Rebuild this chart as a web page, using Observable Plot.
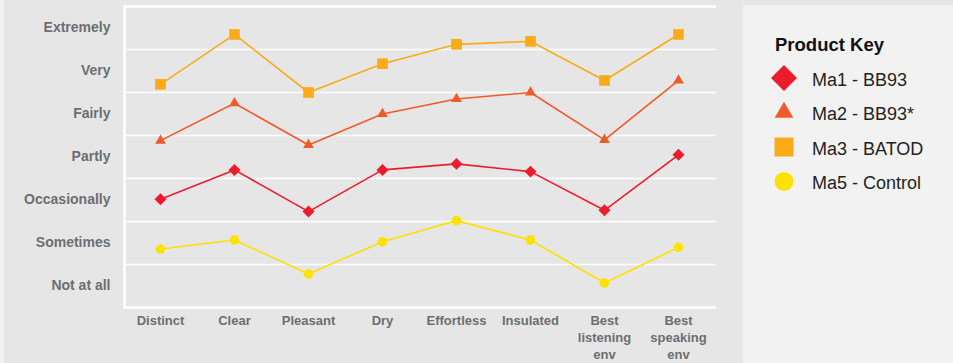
<!DOCTYPE html>
<html>
<head>
<meta charset="utf-8">
<script src="https://cdn.jsdelivr.net/npm/d3@7"></script>
<script src="https://cdn.jsdelivr.net/npm/@observablehq/plot@0.6"></script>
<style>
  html, body { margin: 0; padding: 0; }
  body { width: 953px; height: 363px; background: #f2f2f2; position: relative; overflow: hidden; font-family: "Liberation Sans", Arial, sans-serif; }
  #bg { position: absolute; left: 4px; top: 0; width: 949px; height: 363px; background: #e6e6e6; }
  #chart { position: absolute; left: 4px; top: 0; width: 739px; height: 363px; }
  #legend { position: absolute; left: 743px; top: 5px; width: 210px; height: 358px; background: #f2f2f2; }
</style>
</head>
<body>
<div id="bg"></div>
<div id="chart"></div>
<div id="legend"></div>
<script>
// ---- data ----
const categories = ["Distinct", "Clear", "Pleasant", "Dry", "Effortless", "Insulated", "Best\nlistening\nenv", "Best\nspeaking\nenv"];
const levels = ["Not at all", "Sometimes", "Occasionally", "Partly", "Fairly", "Very", "Extremely"];
const seriesNames = ["Ma1 - BB93", "Ma2 - BB93*", "Ma3 - BATOD", "Ma5 - Control"];
const ma1 = [2.52, 3.20, 2.23, 3.20, 3.34, 3.16, 2.26, 3.55];
const ma2 = [3.88, 4.75, 3.78, 4.50, 4.85, 5.00, 3.90, 5.28];
const ma3 = [5.19, 6.35, 5.00, 5.67, 6.12, 6.19, 5.28, 6.35];
const ma5 = [1.36, 1.57, 0.78, 1.53, 2.02, 1.57, 0.57, 1.40];
const seriesValues = [ma1, ma2, ma3, ma5];
const seriesColors = ["#ec1c2e", "#f15a29", "#fbab18", "#ffe100"];
const seriesSymbols = ["diamond2", "triangle", "square", "circle"];
const seriesR = [5.4, 4.0, 6.0, 4.8];

const rows = [];
seriesNames.forEach((s, i) => {
  categories.forEach((c, j) => rows.push({series: s, cat: c, value: seriesValues[i][j]}));
});

const marks = [
  Plot.ruleY(d3.range(1, 7), {stroke: "white", strokeWidth: 1.5}),
  Plot.ruleY([0, 7], {stroke: "white", strokeWidth: 2.5}),
  Plot.frame({anchor: "left", stroke: "white", strokeWidth: 2.5}),
  Plot.axisY({
    ticks: d3.range(0.5, 7, 1),
    tickFormat: d => levels[Math.floor(d)],
    tickSize: 0, tickPadding: 14, label: null,
    fontSize: 14, fontWeight: "bold", fill: "#6d6e71"
  }),
  Plot.axisX({
    tickSize: 0, tickPadding: 6, lineAnchor: "top", lineHeight: 1.28, label: null,
    fontSize: 13, fontWeight: "bold", fill: "#6d6e71"
  })
];
seriesNames.forEach((s, i) => {
  const data = rows.filter(d => d.series === s);
  marks.push(Plot.line(data, {x: "cat", y: "value", stroke: seriesColors[i], strokeWidth: 1.6}));
  marks.push(Plot.dot(data, {x: "cat", y: "value", fill: seriesColors[i], symbol: () => seriesSymbols[i], r: seriesR[i]}));
});

const chart = Plot.plot({
  width: 739,
  height: 363,
  marginLeft: 120,
  marginRight: 27,
  marginTop: 6,
  marginBottom: 56,
  style: {background: "transparent", fontFamily: "Liberation Sans, Arial, sans-serif", overflow: "visible"},
  x: {type: "point", domain: categories, range: [155, 674], padding: 0, label: null},
  y: {domain: [0, 7], label: null},
  symbol: {type: "identity"},
  marks
});
document.getElementById("chart").appendChild(chart);

// ---- legend ----
const legendSymbols = [d3.symbolDiamond2, d3.symbolTriangle, d3.symbolSquare, d3.symbolCircle];
const legendSizes = [430, 150, 361, 283];
const svg = d3.select("#legend").append("svg").attr("width", 210).attr("height", 358);
svg.append("text").attr("x", 32).attr("y", 46)
  .attr("font-family", "Liberation Sans, Arial, sans-serif").attr("font-weight", "bold")
  .attr("font-size", 18.5).attr("fill", "#111").text("Product Key");
const rowY = [73, 107.5, 142, 176.5];
seriesNames.forEach((s, i) => {
  svg.append("path")
    .attr("transform", `translate(41,${rowY[i]})`)
    .attr("d", d3.symbol(legendSymbols[i], legendSizes[i])())
    .attr("fill", seriesColors[i]);
  svg.append("text").attr("x", 69).attr("y", rowY[i] + 7.5)
    .attr("font-family", "Liberation Sans, Arial, sans-serif")
    .attr("font-size", 18).attr("fill", "#231f20").text(s);
});
</script>
</body>
</html>
